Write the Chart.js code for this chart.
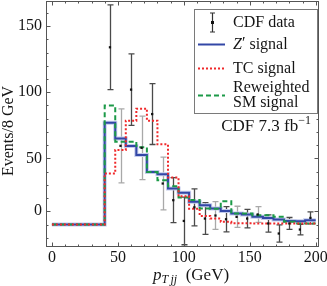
<!DOCTYPE html>
<html>
<head>
<meta charset="utf-8">
<script src="https://cdn.jsdelivr.net/npm/chart.js@4.4.1/dist/chart.umd.min.js"></script>
<style>
  html, body { margin: 0; padding: 0; background: #fff; }
</style>
</head>
<body>
<canvas id="chart" width="327" height="286"></canvas>
<script>
// bin edges (GeV) for the step histograms, first bin is the empty 0-40 range
const binEdges = [0, 40, 48, 56, 64, 72, 80, 88, 96, 104, 112, 120, 128, 136, 144, 152, 160, 168, 176, 184, 192, 200];

const zPrime       = [0, 77, 65, 59.3, 52.5, 39.8, 38.1, 27.3, 24, 17.2, 14.6, 12.1, 10.3, 8.3, 7.6, 5.8, 5, 3.8, 2.7, 2.5, 3.3];
const tcSignal     = [0, 38.6, 56.3, 78.5, 87.6, 78.5, 60.6, 35.6, 21.4, 12, 6.5, 4.5, 2, 1, 1, 0.8, 0.8, 0.8, 0.8, 0.8, 0.8];
const reweightedSM = [0, 90, 62.6, 62.6, 58.5, 39.8, 33.5, 29, 20.4, 18.5, 12.1, 12, 17.6, 8.3, 8.3, 7, 7, 5.8, 2, 0.8, 0.8];

// CDF data points at bin centres
const dataX   = [44, 52, 60, 68, 76, 84, 92, 100, 108, 116, 124, 132, 140, 148, 156, 164, 172, 180, 188, 196];
const cdfData = [134, 59.5, 102, 58, 83.5, 31, 18.4, 2.7, 13, 4.5, 6.8, 4, 5.8, 4.5, 7.6, 0.8, -6.8, 0.8, -3.8, 5];
const cdfErr  = [32, 28, 27, 24, 23, 20, 17, 18, 14, 12, 10.5, 9.5, 8, 7, 6, 6.5, 6.5, 4.5, 4, 4.5];
const lightBars = [52, 68, 84, 124, 140, 156];

const xTickLabels = [0, 50, 100, 150, 200];
const yTickLabels = ['0', '50', '100', '150'];
// the reference puts its "0" label one minor tick above the histogram baseline
const yTickValues = [10, 50, 100, 150];

const SERIF = '"Liberation Serif", "DejaVu Serif", serif';
const INK = '#151515';

const COLORS = {
  zPrime: '#3347a6',
  zHalo: '#c3cbec',
  tc: '#f0282a',
  sm: '#1c9a48',
  frame: '#555'
};

function stepPoints(values) {
  const pts = values.map((v, i) => ({ x: binEdges[i], y: v }));
  pts.push({ x: binEdges[binEdges.length - 1], y: values[values.length - 1] });
  return pts;
}

function label(ctx, parts, x, y, align) {
  // parts: [text, font, dy]
  let w = 0;
  parts.forEach(p => { ctx.font = p[1]; w += ctx.measureText(p[0]).width; });
  let cx = align === 'right' ? x - w : align === 'center' ? x - w / 2 : x;
  ctx.textAlign = 'left';
  parts.forEach(p => {
    ctx.font = p[1];
    ctx.fillText(p[0], cx, y + (p[2] || 0));
    cx += ctx.measureText(p[0]).width;
  });
}

const errorBars = {
  id: 'errorBars',
  beforeDatasetsDraw(chart) {
    const { ctx, chartArea: a, scales: { x, y } } = chart;
    ctx.save();
    ctx.beginPath();
    ctx.rect(a.left, a.top, a.right - a.left, a.bottom - a.top);
    ctx.clip();
    ctx.lineWidth = 1.3;
    dataX.forEach((v, i) => {
      const px = Math.round(x.getPixelForValue(v)) + 0.5;
      const top = y.getPixelForValue(cdfData[i] + cdfErr[i]);
      const bot = y.getPixelForValue(cdfData[i] - cdfErr[i]);
      ctx.strokeStyle = lightBars.includes(v) ? '#a9a9a9' : '#4a4a4a';
      ctx.beginPath();
      ctx.moveTo(px, top); ctx.lineTo(px, bot);
      ctx.moveTo(px - 3, top); ctx.lineTo(px + 3, top);
      ctx.moveTo(px - 3, bot); ctx.lineTo(px + 3, bot);
      ctx.stroke();
    });
    ctx.restore();
  }
};

const decorations = {
  id: 'decorations',
  afterDraw(chart) {
    const { ctx, chartArea: a, scales: { x, y } } = chart;
    ctx.save();

    // frame
    ctx.strokeStyle = COLORS.frame;
    ctx.lineWidth = 1;
    ctx.strokeRect(a.left + 0.5, a.top + 0.5, a.right - a.left - 1, a.bottom - a.top - 1);

    // inward ticks on all four sides
    ctx.beginPath();
    for (let v = 0; v <= 200; v += 10) {
      const px = Math.round(x.getPixelForValue(v)) + 0.5;
      const len = xTickLabels.includes(v) ? 4.5 : 2.5;
      ctx.moveTo(px, a.bottom); ctx.lineTo(px, a.bottom - len);
      ctx.moveTo(px, a.top); ctx.lineTo(px, a.top + len);
    }
    for (let v = -10; v <= 160; v += 10) {
      const py = Math.round(y.getPixelForValue(v)) + 0.5;
      const len = yTickValues.includes(v) ? 4.5 : 2.5;
      ctx.moveTo(a.left, py); ctx.lineTo(a.left + len, py);
      ctx.moveTo(a.right, py); ctx.lineTo(a.right - len, py);
    }
    ctx.stroke();

    // legend box
    const bx = 194.5, by = 9.5, bw = 123, bh = 104;
    ctx.fillStyle = '#fff';
    ctx.fillRect(bx, by, bw, bh);
    ctx.strokeStyle = '#7a7a7a';
    ctx.strokeRect(bx, by, bw, bh);

    // data symbol
    ctx.strokeStyle = '#333';
    ctx.lineWidth = 1.2;
    ctx.beginPath();
    ctx.moveTo(212.5, 13); ctx.lineTo(212.5, 32);
    ctx.moveTo(210, 13); ctx.lineTo(215, 13);
    ctx.moveTo(210, 32); ctx.lineTo(215, 32);
    ctx.stroke();
    ctx.fillStyle = '#111';
    ctx.fillRect(211, 21, 3, 3);

    const line = (yy, color, dash, w) => {
      ctx.strokeStyle = color;
      ctx.lineWidth = w;
      ctx.setLineDash(dash);
      ctx.beginPath();
      ctx.moveTo(198, yy); ctx.lineTo(225, yy);
      ctx.stroke();
      ctx.setLineDash([]);
    };
    line(44.5, COLORS.zPrime, [], 2);
    line(68.5, COLORS.tc, [2, 2], 2);
    line(95.5, COLORS.sm, [5, 3], 2);

    const f = `16px ${SERIF}`;
    const fi = `italic 16px ${SERIF}`;
    ctx.fillStyle = INK;
    ctx.textBaseline = 'middle';
    label(ctx, [['CDF data', f]], 233, 23);
    label(ctx, [['Z', fi], ['\u2032', f, -1], [' signal', f]], 233, 45);
    label(ctx, [['TC signal', f]], 233, 69);
    label(ctx, [['Reweighted', f]], 233, 88);
    label(ctx, [['SM signal', f]], 233, 103);

    label(ctx, [['CDF 7.3 fb', `17px ${SERIF}`], ['\u22121', `12px ${SERIF}`, -6]], 311, 127, 'right');

    // axis titles
    label(ctx, [['p', `italic 17px ${SERIF}`], ['T\u2009jj', `italic 12px ${SERIF}`, 4], ['  (GeV)', `17px ${SERIF}`]], 191, 276, 'center');

    ctx.translate(9, 131);
    ctx.rotate(-Math.PI / 2);
    label(ctx, [['Events/8 GeV', f]], 0, 0, 'center');

    ctx.restore();
  }
};

new Chart(document.getElementById('chart'), {
  type: 'line',
  data: {
    datasets: [
      { data: stepPoints(zPrime), borderColor: COLORS.zHalo, borderWidth: 4, order: 5 },
      { data: stepPoints(zPrime), borderColor: COLORS.zPrime, borderWidth: 2, order: 4 },
      { data: stepPoints(reweightedSM), borderColor: COLORS.sm, borderWidth: 2, borderDash: [5, 3], order: 3 },
      { data: stepPoints(tcSignal), borderColor: COLORS.tc, borderWidth: 2, borderDash: [2, 2], order: 2 },
      {
        type: 'scatter',
        data: dataX.map((v, i) => ({ x: v, y: cdfData[i] })),
        pointStyle: 'rect',
        pointRadius: 1.6,
        backgroundColor: '#111',
        borderWidth: 0,
        order: 1
      }
    ]
  },
  options: {
    responsive: false,
    animation: false,
    datasets: {
      line: { stepped: true, pointRadius: 0, fill: false, tension: 0 }
    },
    layout: { autoPadding: false, padding: { left: 0, top: 1, right: 8, bottom: 0 } },
    plugins: { legend: { display: false }, tooltip: { enabled: false } },
    scales: {
      x: {
        type: 'linear',
        min: -4.5,
        max: 202.5,
        grid: { display: false, drawTicks: false },
        border: { display: false },
        afterBuildTicks: s => { s.ticks = xTickLabels.map(v => ({ value: v })); },
        afterFit: s => { s.height = 39; s.paddingLeft = 0; s.paddingRight = 0; },
        ticks: { font: { family: SERIF, size: 16 }, color: INK, padding: 1, maxRotation: 0, autoSkip: false }
      },
      y: {
        type: 'linear',
        min: -17,
        max: 169,
        grid: { display: false, drawTicks: false },
        border: { display: false },
        afterBuildTicks: s => { s.ticks = yTickValues.map(v => ({ value: v })); },
        afterFit: s => { s.width = 46; s.paddingTop = 0; s.paddingBottom = 0; },
        ticks: {
          font: { family: SERIF, size: 16 },
          color: INK,
          padding: 4,
          autoSkip: false,
          callback: v => yTickLabels[yTickValues.indexOf(v)]
        }
      }
    }
  },
  plugins: [errorBars, decorations]
});
</script>
</body>
</html>
